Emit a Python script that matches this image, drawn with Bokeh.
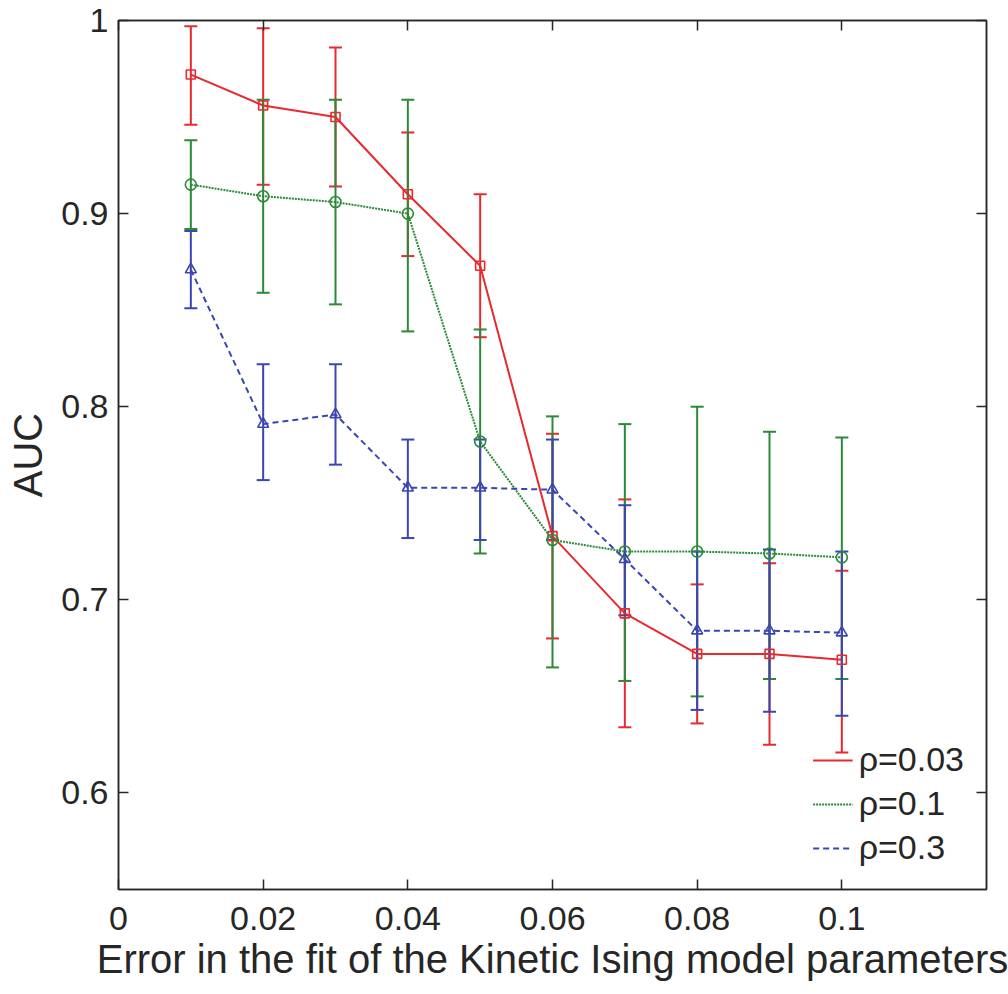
from bokeh.plotting import figure
from bokeh.models import (ColumnDataSource, Whisker, TeeHead, LinearAxis, FixedTicker,
                          Range1d, Legend, LegendItem)
from bokeh.embed import file_html
from bokeh.resources import INLINE

# ---- data ----
x_vals = [0.01, 0.02, 0.03, 0.04, 0.05, 0.06, 0.07, 0.08, 0.09, 0.10]

auc_r003 = [0.972, 0.956, 0.950, 0.910, 0.873, 0.733, 0.693, 0.672, 0.672, 0.669]
up_r003 = [0.997, 0.996, 0.986, 0.942, 0.910, 0.786, 0.752, 0.708, 0.719, 0.715]
lo_r003 = [0.946, 0.915, 0.914, 0.878, 0.836, 0.680, 0.634, 0.636, 0.625, 0.621]

auc_r01 = [0.915, 0.909, 0.906, 0.900, 0.782, 0.731, 0.725, 0.725, 0.724, 0.722]
up_r01 = [0.938, 0.959, 0.959, 0.959, 0.840, 0.795, 0.791, 0.800, 0.787, 0.784]
lo_r01 = [0.892, 0.859, 0.853, 0.839, 0.724, 0.665, 0.658, 0.650, 0.659, 0.659]

auc_r03 = [0.871, 0.791, 0.796, 0.758, 0.758, 0.757, 0.721, 0.684, 0.684, 0.683]
up_r03 = [0.891, 0.822, 0.822, 0.783, 0.783, 0.783, 0.749, 0.725, 0.726, 0.725]
lo_r03 = [0.851, 0.762, 0.770, 0.732, 0.731, 0.731, 0.692, 0.643, 0.642, 0.640]

series_labels = ["ρ=0.03", "ρ=0.1", "ρ=0.3"]

x_ticks = [0, 0.02, 0.04, 0.06, 0.08, 0.1]
x_tick_labels = ["0", "0.02", "0.04", "0.06", "0.08", "0.1"]
y_ticks = [0.6, 0.7, 0.8, 0.9, 1.0]
y_tick_labels = ["0.6", "0.7", "0.8", "0.9", "1"]

x_label = "Error in the fit of the Kinetic Ising model parameters"
y_label = "AUC"

# ---- styles ----
FONT = "Liberation Sans"
AX = "#262626"
colors = ["#e62a2e", "#2a8a38", "#3a46b2"]
dashes = ["solid", "2 1", "6 4"]
markers = ["square", "circle", "triangle"]
msizes = [9, 11, 11]

p = figure(width=1008, height=994, output_backend="svg", toolbar_location=None,
           x_range=Range1d(0, 0.12), y_range=Range1d(0.55, 1.0),
           min_border_left=118, min_border_right=22, min_border_top=20, min_border_bottom=105)
p.grid.visible = False
p.outline_line_color = AX
p.outline_line_width = 1.5
p.background_fill_color = "white"
p.border_fill_color = "white"

xo = {t: l for t, l in zip(x_ticks, x_tick_labels)}
yo = {t: l for t, l in zip(y_ticks, y_tick_labels)}

for ax in p.xaxis:
    ax.ticker = FixedTicker(ticks=x_ticks)
    ax.major_label_overrides = xo
    ax.axis_label = x_label
for ax in p.yaxis:
    ax.ticker = FixedTicker(ticks=y_ticks)
    ax.major_label_overrides = yo
    ax.axis_label = y_label

for ax in list(p.xaxis) + list(p.yaxis):
    ax.major_tick_in = 10
    ax.major_tick_out = 0
    ax.minor_tick_line_color = None
    ax.axis_line_color = AX
    ax.axis_line_width = 1.5
    ax.major_tick_line_color = AX
    ax.major_tick_line_width = 1.5
    ax.major_label_text_font = FONT
    ax.major_label_text_font_size = "34px"
    ax.major_label_text_color = AX
    ax.axis_label_text_font = FONT
    ax.axis_label_text_font_size = "40px"
    ax.axis_label_text_font_style = "normal"
    ax.axis_label_text_color = AX
p.xaxis.major_label_standoff = 17
p.xaxis.axis_label_standoff = 4
p.yaxis.major_label_standoff = 10
p.yaxis.axis_label_standoff = 8

# top and right axes with ticks only
blank_x = {t: "" for t in x_ticks}
blank_y = {t: "" for t in y_ticks}
top = LinearAxis(ticker=FixedTicker(ticks=x_ticks), major_label_overrides=blank_x,
                 major_label_standoff=0, major_tick_in=10, major_tick_out=0,
                 minor_tick_line_color=None, axis_line_color=AX, axis_line_width=1.5,
                 major_tick_line_color=AX, major_tick_line_width=1.5)
right = LinearAxis(ticker=FixedTicker(ticks=y_ticks), major_label_overrides=blank_y,
                   major_label_standoff=0, major_tick_in=10, major_tick_out=0,
                   minor_tick_line_color=None, axis_line_color=AX, axis_line_width=1.5,
                   major_tick_line_color=AX, major_tick_line_width=1.5)
p.add_layout(top, "above")
p.add_layout(right, "right")

all_series = [(auc_r003, up_r003, lo_r003), (auc_r01, up_r01, lo_r01), (auc_r03, up_r03, lo_r03)]
items = []
for (auc, up, lo), col, dash, mk, ms, lab in zip(all_series, colors, dashes, markers, msizes, series_labels):
    src = ColumnDataSource(dict(x=x_vals, y=auc, upper=up, lower=lo))
    w = Whisker(base="x", upper="upper", lower="lower", source=src, dimension="height",
                line_color=col, line_width=2,
                upper_head=TeeHead(size=13, line_color=col, line_width=2),
                lower_head=TeeHead(size=13, line_color=col, line_width=2))
    p.add_layout(w)
    ln = p.line("x", "y", source=src, line_color=col, line_width=2, line_dash=dash)
    p.scatter("x", "y", source=src, marker=mk, size=ms, fill_color=None,
              line_color=col, line_width=1.6)
    items.append(LegendItem(label=lab, renderers=[ln]))

legend = Legend(items=items, location="bottom_right",
                background_fill_alpha=0, border_line_alpha=0,
                label_text_font=FONT, label_text_font_size="34px", label_text_color=AX,
                glyph_width=40, glyph_height=30, label_height=30, label_standoff=6,
                spacing=5, padding=0, margin=22)
p.add_layout(legend)

open("out.html", "w").write(file_html(p, INLINE))
